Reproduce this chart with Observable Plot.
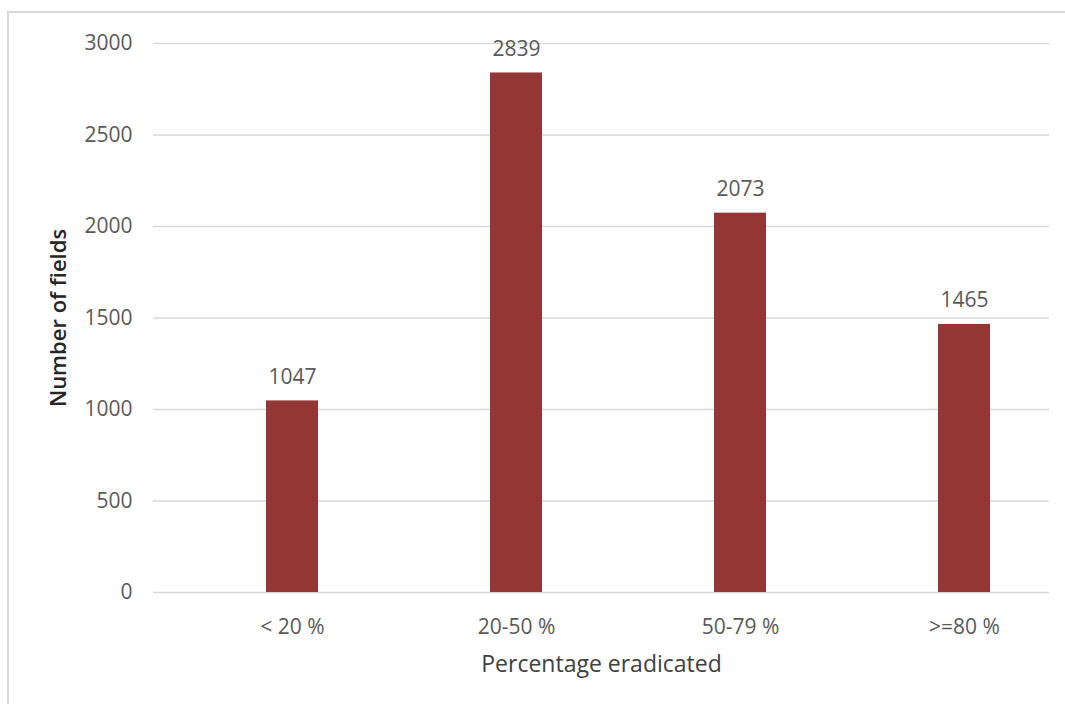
<!DOCTYPE html>
<html>
<head>
<meta charset="utf-8">
<script src="https://cdn.jsdelivr.net/npm/d3@7"></script>
<script src="https://cdn.jsdelivr.net/npm/@observablehq/plot@0.6"></script>
<style>
  html, body { margin: 0; padding: 0; background: #fff; overflow: hidden; }
  #frame { position: absolute; left: 7px; top: 11px; width: 1080px; height: 720px;
           border: 2px solid #d9d9d9; box-sizing: border-box; }
  #chart { position: absolute; left: 0; top: 0; }
</style>
</head>
<body>
<div id="frame"></div>
<div id="chart"></div>
<script>
// Fields grouped by share of weeds eradicated
const categories = ["< 20 %", "20-50 %", "50-79 %", ">=80 %"];
const fieldCounts = [1047, 2839, 2073, 1465];
const yTicks = [0, 500, 1000, 1500, 2000, 2500, 3000];
const xTitle = "Percentage eradicated";
const yTitle = "Number of fields";

const data = categories.map((category, i) => ({category, count: fieldCounts[i]}));

const font = "'Open Sans', 'Noto Sans', sans-serif";
const tickColor = "#595959";

const chart = Plot.plot({
  width: 1065,
  height: 704,
  marginTop: 43,
  marginBottom: 112,
  marginLeft: 153,
  marginRight: 16,
  style: {fontFamily: font, background: "transparent"},
  x: {type: "band", domain: categories, paddingInner: 0.768, paddingOuter: 0.384, align: 0.657},
  y: {domain: [0, 3000]},
  marks: [
    Plot.ruleY(yTicks, {stroke: "#d9d9d9", strokeWidth: 1.3}),
    Plot.barY(data, {x: "category", y: "count", fill: "#943634"}),
    Plot.text(data, {
      x: "category", y: "count", text: d => String(d.count),
      dy: -24, lineAnchor: "middle", fill: tickColor, fontSize: 21
    }),
    Plot.axisY({ticks: yTicks, tickFormat: d => String(d), tickSize: 0, tickPadding: 21,
                label: null, fontSize: 21, color: tickColor}),
    Plot.axisX({tickSize: 0, tickPadding: 27, label: null,
                fontSize: 21, color: tickColor}),
    Plot.text([xTitle], {frameAnchor: "bottom", dy: 72, lineAnchor: "middle",
                         fontSize: 23, fill: "#404040"}),
    Plot.text([yTitle], {frameAnchor: "left", dx: -95, rotate: -90, textAnchor: "middle",
                         lineAnchor: "middle", fontSize: 22, fontWeight: 600, fill: "#262626"})
  ]
});

document.getElementById("chart").append(chart);
</script>
</body>
</html>
